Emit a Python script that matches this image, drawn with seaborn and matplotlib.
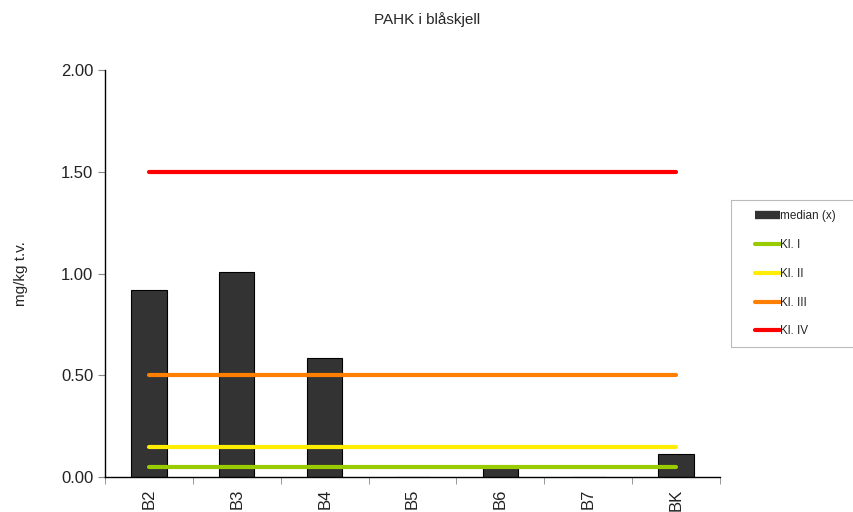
import numpy as np
import pandas as pd
import matplotlib
matplotlib.use('Agg')
import matplotlib.pyplot as plt
from matplotlib.lines import Line2D
from matplotlib.patches import Rectangle
import seaborn as sns

stations = ['B2', 'B3', 'B4', 'B5', 'B6', 'B7', 'BK']
median_vals = [0.92, 1.01, 0.585, 0.0, 0.045, 0.0, 0.113]

class_names = ['Kl. I', 'Kl. II', 'Kl. III', 'Kl. IV']
class_limits = [0.05, 0.15, 0.5, 1.5]
class_colors = ['#99cc00', '#ffee00', '#ff8000', '#ff0000']

sns.set_style('white')
plt.rcParams['font.family'] = ['Liberation Sans', 'DejaVu Sans']

df = pd.DataFrame({'station': stations, 'median': median_vals})

fig = plt.figure(figsize=(8.54, 5.12), dpi=100)
ax = fig.add_axes([0.123, 0.068, 0.72, 0.795])

sns.barplot(data=df, x='station', y='median', color='#333333', width=0.4,
            edgecolor='black', linewidth=0.8, saturation=1, ax=ax)

x = np.arange(len(stations))
handles = [Line2D([], [], color='#333333', lw=6, solid_capstyle='butt')]
labels = ['median (x)']
for name, lim, col in zip(class_names, class_limits, class_colors):
    ax.plot([x[0], x[-1]], [lim, lim], color=col, lw=3, solid_capstyle='round')
    handles.append(Line2D([], [], color=col, lw=3))
    labels.append(name)

ax.set_xlim(-0.5, len(stations) - 0.5)
ax.set_ylim(0, 2.0)
ax.set_yticks([0, 0.5, 1.0, 1.5, 2.0])
ax.set_yticklabels(['%.2f' % v for v in [0, 0.5, 1.0, 1.5, 2.0]], fontsize=12, color='#222222')
ax.set_xticks(x)
ax.set_xticklabels(stations, rotation=90, fontsize=12, color='#222222')
ax.set_xticks(np.arange(len(stations) + 1) - 0.5, minor=True)
ax.tick_params(axis='x', which='major', length=0, pad=8)
ax.tick_params(axis='x', which='minor', length=5, direction='out', color='#888888', bottom=True)
ax.tick_params(axis='y', length=5, direction='out', color='#888888', left=True)
ax.set_xlabel('')
ax.set_ylabel('mg/kg t.v.', fontsize=11)
ax.yaxis.set_label_coords(-0.125, 0.5)
for s in ['top', 'right']:
    ax.spines[s].set_visible(False)
for s in ['left', 'bottom']:
    ax.spines[s].set_color('black')
    ax.spines[s].set_linewidth(1)

fig.suptitle('PAHK i blåskjell', fontsize=11, y=0.977)

# legend frame drawn separately
fig.patches.append(Rectangle((0.856, 0.322), 0.2, 0.287, transform=fig.transFigure,
                             facecolor='white', edgecolor='#bbbbbb', linewidth=0.8))
leg = fig.legend(handles, labels, loc='upper left', bbox_to_anchor=(0.884, 0.589), frameon=False,
                 fontsize=8.5, handlelength=2.1, handletextpad=0.0, labelspacing=1.42,
                 borderpad=0, borderaxespad=0)

fig.savefig('out.png', dpi=100)
